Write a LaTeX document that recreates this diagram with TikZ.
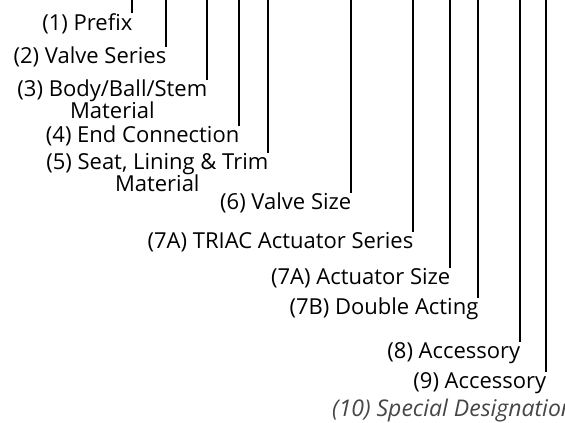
\documentclass[tikz,border=0pt]{standalone}
\usepackage{fontspec}
\setmainfont{Open Sans}
\definecolor{specgray}{RGB}{70,70,70}
\begin{document}
\begin{tikzpicture}[x=1pt,y=-1pt,
  lbl/.style={anchor=north east,inner sep=0pt,font=\fontsize{22}{22}\selectfont,align=center},
  lead/.style={line width=1.3pt,black}]
\useasboundingbox (0,0) rectangle (565,423);
\foreach \n/\x/\y/\t in {
  1/132/13/{(1) Prefix},
  2/166/47/{(2) Valve Series},
  3/207/80/{(3) Body/Ball/Stem\\Material},
  4/239/126/{(4) End Connection},
  5/268/153/{(5) Seat, Lining \& Trim\\Material},
  6/351/193/{(6) Valve Size},
  7/413/232/{(7A) TRIAC Actuator Series},
  8/450/268/{(7A) Actuator Size},
  9/478/298/{(7B) Double Acting},
  10/520/342/{(8) Accessory},
  11/546/372/{(9) Accessory}}{
  \coordinate (top\n) at (\x,0);
  \node[lbl] (n\n) at (\x+0.5,\y) {\t};
  \draw[lead] (top\n) -- (top\n |- n\n.north);
}
\node[anchor=north west,inner sep=0pt,font=\fontsize{23}{23}\selectfont\itshape,text=specgray] (n12) at (332,399) {(10) Special Designation};
\end{tikzpicture}
\end{document}
